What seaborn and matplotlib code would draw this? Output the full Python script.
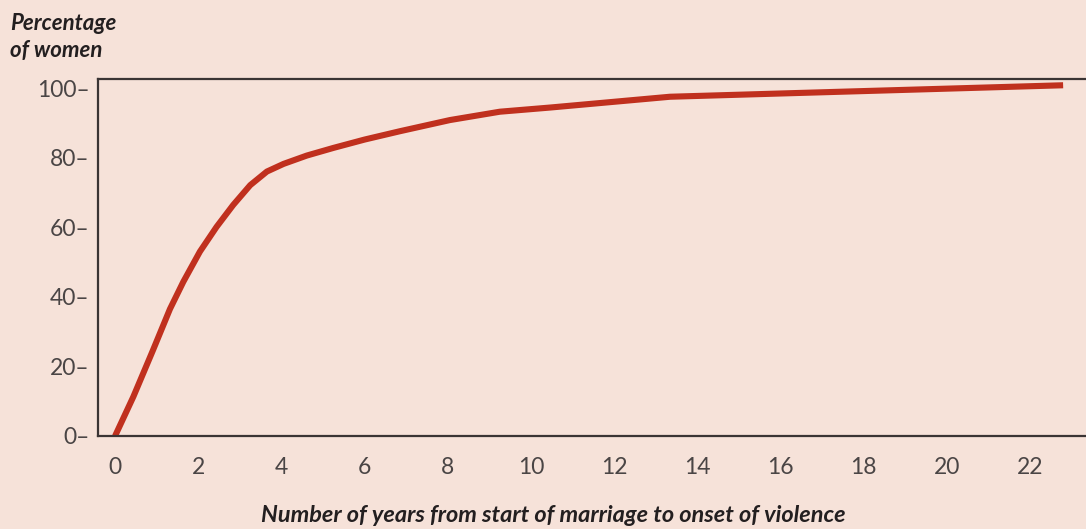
import matplotlib
matplotlib.use("Agg")
import matplotlib.pyplot as plt
import seaborn as sns
import pandas as pd

# Cumulative share of women by years from start of marriage to onset of violence
years = [0, 0.44, 0.906, 1.32, 1.64, 2.04, 2.44, 2.84, 3.25, 3.65, 4.05, 4.61,
         5.25, 6.0, 6.85, 8.05, 9.25, 10.46, 13.34, 16.47, 22.79]
pct_women = [0, 11.3, 24.5, 36.5, 44.3, 53.0, 60.1, 66.4, 72.1, 76.0, 78.2, 80.6,
             82.8, 85.2, 87.6, 90.8, 93.2, 94.4, 97.5, 98.6, 100.8]

x_ticks = [0, 2, 4, 6, 8, 10, 12, 14, 16, 18, 20, 22]
y_ticks = [0, 20, 40, 60, 80, 100]

bg = "#F6E2D9"
line_color = "#C0301E"
ink = "#4A4545"

sns.set_theme(style="white")
plt.rcParams["font.family"] = ["Lato", "DejaVu Sans"]

df = pd.DataFrame({"years": years, "pct": pct_women})

fig = plt.figure(figsize=(10.86, 5.29), dpi=100, facecolor=bg)
ax = fig.add_axes([98 / 1086, 1 - 436 / 529, 1 - 98 / 1086, (436 - 79) / 529])
ax.set_facecolor(bg)

sns.lineplot(data=df, x="years", y="pct", ax=ax, color=line_color,
             linewidth=4.4, solid_capstyle="butt", solid_joinstyle="round")

ax.set_xlim(-0.41, 23.34)
ax.set_ylim(0, 102.6)

ax.set_xticks(x_ticks)
ax.set_xticklabels([str(t) for t in x_ticks])
ax.set_yticks(y_ticks)
ax.set_yticklabels([f"{t}\u2013" for t in y_ticks])
ax.tick_params(axis="both", length=0, labelsize=16.5, labelcolor=ink)
ax.tick_params(axis="x", pad=15)
ax.tick_params(axis="y", pad=6)

for side in ["left", "top", "bottom"]:
    ax.spines[side].set_visible(True)
    ax.spines[side].set_color("#3a3434")
    ax.spines[side].set_linewidth(1.6)
ax.spines["right"].set_visible(False)

ax.set_xlabel("")
ax.set_ylabel("")

fig.text(10 / 1086, 1 - 37 / 529, "Percentage\nof women", ha="left", va="center",
         fontsize=16, fontweight="bold", fontstyle="italic", color="#231F20",
         linespacing=1.3)
fig.text(553 / 1086, 1 - 516 / 529, "Number of years from start of marriage to onset of violence",
         ha="center", va="center", fontsize=16.9, fontweight="bold",
         fontstyle="italic", color="#231F20")

fig.savefig("out.png", dpi=100, facecolor=bg)
